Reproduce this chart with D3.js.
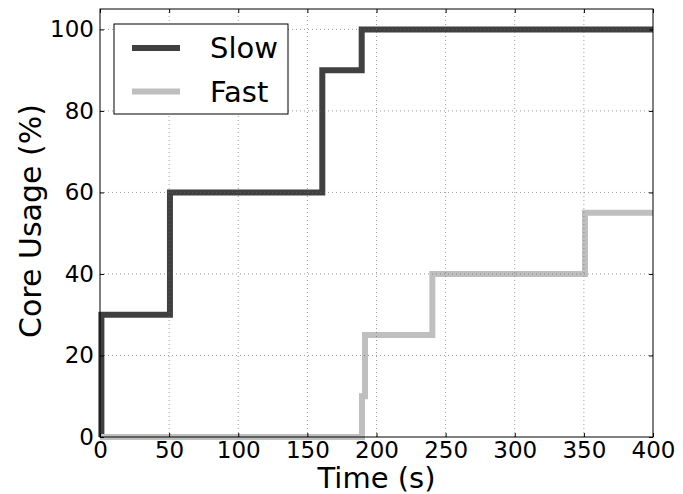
<!DOCTYPE html>
<html>
<head>
<meta charset="utf-8">
<script src="https://cdn.jsdelivr.net/npm/d3@7"></script>
<style>
  body { margin: 0; background: #fff; }
  svg { display: block; font-family: "DejaVu Sans", sans-serif; }
</style>
</head>
<body>
<svg id="chart" width="683" height="494"></svg>
<script>
// step series: [time (s), core usage (%)]
const slowSteps = [[0, 0], [1, 30], [50.6, 60], [160.8, 90], [189.3, 100], [400, 100]];
const fastSteps = [[0, 0], [188.6, 0], [189.5, 10], [191.7, 25], [240.4, 40], [350.8, 55], [400, 55]];
const xTicks = [0, 50, 100, 150, 200, 250, 300, 350, 400];
const yTicks = [0, 20, 40, 60, 80, 100];
const seriesNames = ["Slow", "Fast"];
const seriesColors = ["#404040", "#bfbfbf"];

const svg = d3.select("#chart");
const margin = {left: 100, right: 30, top: 9, bottom: 57};
const W = 683, H = 494;
const x = d3.scaleLinear().domain([0, 400]).range([margin.left, W - margin.right]);
const y = d3.scaleLinear().domain([0, 105]).range([H - margin.bottom, margin.top]);

const line = d3.line().x(d => x(d[0])).y(d => y(d[1])).curve(d3.curveStepAfter);

// series lines
[slowSteps, fastSteps].forEach((data, i) => {
    svg.append("path")
        .datum(data)
        .attr("fill", "none")
        .attr("stroke", seriesColors[i])
        .attr("stroke-width", 6)
        .attr("stroke-linejoin", "miter")
        .attr("d", line);
});

// dotted grid drawn over the lines, like the original
const grid = svg.append("g").attr("stroke", "#666").attr("stroke-width", 0.8)
    .attr("stroke-dasharray", "1,3").attr("opacity", 0.8);
grid.selectAll("line.vx").data(xTicks.slice(1, -1)).join("line")
    .attr("x1", d => x(d)).attr("x2", d => x(d))
    .attr("y1", y.range()[0]).attr("y2", y.range()[1]);
grid.selectAll("line.hy").data(yTicks.slice(1)).join("line")
    .attr("x1", x.range()[0]).attr("x2", x.range()[1])
    .attr("y1", d => y(d)).attr("y2", d => y(d));

// frame
svg.append("rect")
    .attr("x", x.range()[0]).attr("y", y.range()[1])
    .attr("width", x.range()[1] - x.range()[0]).attr("height", y.range()[0] - y.range()[1])
    .attr("fill", "none").attr("stroke", "#000").attr("stroke-width", 1);

// axes with inward ticks on all sides
const axisStyle = g => {
    g.select(".domain").remove();
    g.selectAll("text").attr("fill", "#000").attr("font-size", 23).attr("font-family", "DejaVu Sans, sans-serif");
    g.selectAll(".tick line").attr("stroke", "#000");
};
svg.append("g").attr("transform", `translate(0,${y(0)})`)
    .call(d3.axisBottom(x).tickValues(xTicks).tickSizeInner(-4).tickPadding(4))
    .call(axisStyle)
    .selectAll("text").attr("dy", "0.75em");
svg.append("g").attr("transform", `translate(0,${y.range()[1]})`)
    .call(d3.axisTop(x).tickValues(xTicks).tickSizeInner(-4).tickFormat(""))
    .call(axisStyle);
svg.append("g").attr("transform", `translate(${x(0)},0)`)
    .call(d3.axisLeft(y).tickValues(yTicks).tickSizeInner(-4).tickPadding(6))
    .call(axisStyle);
svg.append("g").attr("transform", `translate(${x.range()[1]},0)`)
    .call(d3.axisRight(y).tickValues(yTicks).tickSizeInner(-4).tickFormat(""))
    .call(axisStyle);

// axis titles
svg.append("text")
    .attr("x", (x.range()[0] + x.range()[1]) / 2).attr("y", 488)
    .attr("text-anchor", "middle").attr("font-size", 29)
    .text("Time (s)");
svg.append("text")
    .attr("transform", `translate(41,221) rotate(-90)`)
    .attr("text-anchor", "middle").attr("font-size", 30)
    .text("Core Usage (%)");

// legend
const legend = svg.append("g").attr("transform", "translate(114,24)");
legend.append("rect").attr("width", 174).attr("height", 90)
    .attr("fill", "#fff").attr("stroke", "#000").attr("stroke-width", 1);
seriesNames.forEach((name, i) => {
    const ly = 24 + i * 43.5;
    legend.append("line").attr("x1", 18).attr("x2", 66).attr("y1", ly).attr("y2", ly)
        .attr("stroke", seriesColors[i]).attr("stroke-width", 6);
    legend.append("text").attr("x", 96).attr("y", ly).attr("dy", "0.36em")
        .attr("font-size", 29).text(name);
});
</script>
</body>
</html>
